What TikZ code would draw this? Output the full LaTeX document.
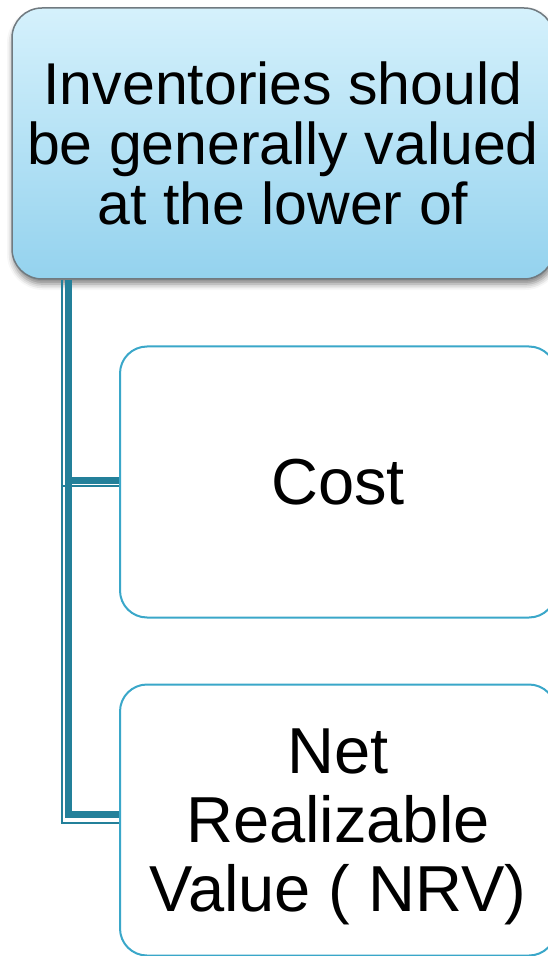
\documentclass[tikz,border=0pt]{standalone}
\usepackage{fontspec}
\setmainfont{Liberation Sans}
\usepackage{tikz}
\usepackage{xcolor}
\definecolor{boxtop}    {rgb}{0.835,0.945,0.988}
\definecolor{boxbottom} {rgb}{0.580,0.824,0.933}
\definecolor{boxline}   {rgb}{0.44,0.48,0.50}
\definecolor{linkblue}  {rgb}{0.137,0.502,0.604}
\definecolor{edgeblue}  {rgb}{0.227,0.655,0.788}
\usetikzlibrary{shadows.blur}
\tikzset{ % Setup for the boxes and the links
headbox/.style={draw=boxline, line width=0.75pt, rounded corners=15pt, top color=boxtop, bottom color=boxbottom,
  minimum width=271pt, minimum height=135.5pt, align=center, font=\fontsize{29.5}{30}\selectfont,
  blur shadow={shadow xshift=0.5pt, shadow yshift=-2.5pt, shadow blur radius=3pt, shadow opacity=50}},
itembox/.style={draw=edgeblue, line width=1pt, rounded corners=13.5pt, fill=white,
  minimum width=218pt, minimum height=135.5pt, align=center, font=\fontsize{32.5}{34.5}\selectfont},
trunk/.style={draw=linkblue, line width=3.5pt},
trace/.style={draw=linkblue, line width=0.75pt}, % thin line beside the trunk
}

\begin{document}
\begin{tikzpicture}
            \useasboundingbox (0,0) rectangle (273.5pt,-478pt);
            \node [headbox] (inv) at (141.5pt,-71.75pt) {Inventories should\\be generally valued\\at the lower of};
            \node [itembox] (cost) at (169pt,-241pt) {Cost};
            \node [itembox] (nrv) at (169pt,-410pt) {\rule{0pt}{29.5pt}Net\\Realizable\\Value ( NRV)};
            \draw [trace] ([xshift=25.25pt]inv.south west) |- ([yshift=-1.5pt]nrv.west);
            \draw [trace] ([xshift=25.25pt,yshift=-2pt]inv.south west |- cost.west) -- ([yshift=-2pt]cost.west);
            \draw [trunk] ([xshift=28.5pt]inv.south west) |- ([yshift=3pt]nrv.west);
            \draw [trunk] ([xshift=28.5pt,yshift=1pt]inv.south west |- cost.west) -- ([yshift=1pt]cost.west);
        \end{tikzpicture}
\end{document}
